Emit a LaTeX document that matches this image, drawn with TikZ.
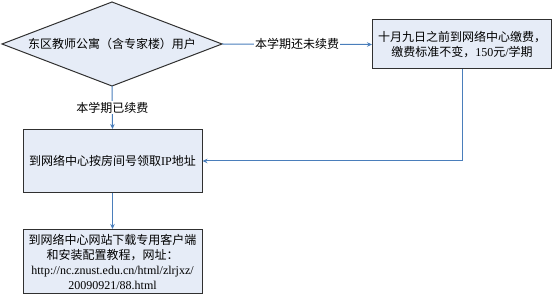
\documentclass[tikz,border=0pt]{standalone}
\usepackage{fontspec}
\setmainfont{Liberation Serif}
\newfontfamily\cjk{Noto Sans CJK SC}
\usetikzlibrary{shapes.geometric,arrows.meta}
\definecolor{boxfill}{HTML}{E6ECF7}
\definecolor{boxline}{HTML}{303030}
\definecolor{linkblue}{HTML}{4A7EBB}
\tikzset{
  x=1pt,y=-1pt,
  every node/.style={font=\fontsize{12}{15}\selectfont},
  stepbox/.style={draw=boxline,fill=boxfill,line width=1pt,align=center,inner sep=0pt},
  arr/.style={draw=linkblue,line width=1pt,-{Stealth[length=5pt,width=4.5pt]}},
  lbl/.style={fill=white,inner sep=1pt}
}
\begin{document}
\begin{tikzpicture}
\useasboundingbox (0,0) rectangle (555,296);
\draw[stepbox] (2,44) -- (112,2) -- (222,44) -- (112,86) -- cycle;
\node (d) at (112,44) {\cjk 东区教师公寓（含专家楼）用户};
\coordinate (dr) at (222,44);
\coordinate (db) at (112,86);
\node[stepbox,minimum width=179pt,minimum height=49pt] (b1) at (462,44.5) {{\cjk 十月九日之前到网络中心缴费，}\\{\cjk 缴费标准不变，}150{\cjk 元}/{\cjk 学期}};
\node[stepbox,minimum width=179pt,minimum height=63pt] (b2) at (112.5,161) {{\cjk 到网络中心按房间号领取}IP{\cjk 地址}};
\node[stepbox,minimum width=179pt,minimum height=64pt] (b3) at (112.5,261.5) {{\cjk 到网络中心网站下载专用客户端}\\{\cjk 和安装配置教程，网址：}\\http://nc.znust.edu.cn/html/zlrjxz/\\20090921/88.html};
\draw[arr] (dr) -- node[lbl] (l1) {\cjk 本学期还未续费} (b1.west);
\draw[arr] (db) -- node[lbl] (l2) {\cjk 本学期已续费} (b2.north);
\draw[arr] (b1.south) |- (b2.east);
\draw[arr] (b2.south) -- (b3.north);
\end{tikzpicture}
\end{document}
